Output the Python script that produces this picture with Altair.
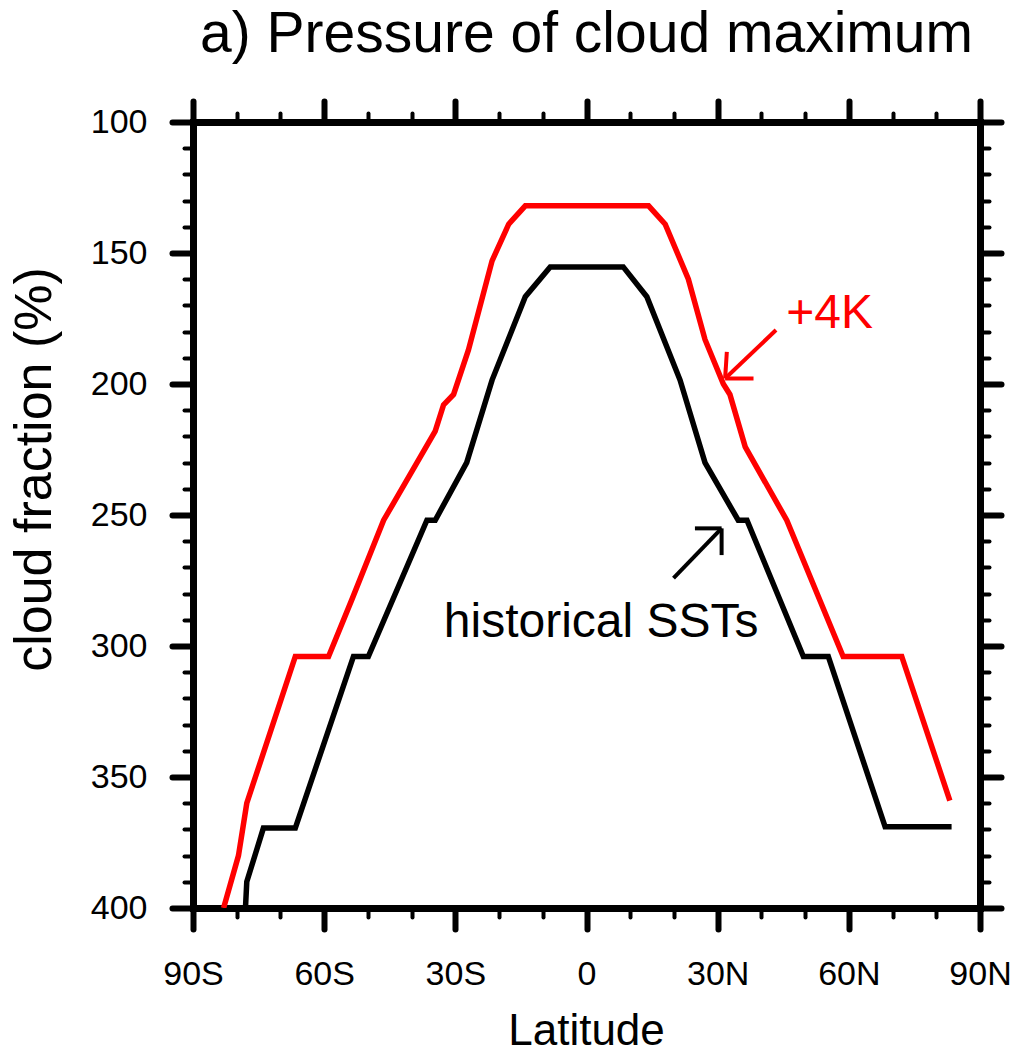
import altair as alt
import pandas as pd

# ---- data ----
lat_hist = [-78.0, -77.7, -73.9, -66.6, -53.3, -49.9, -36.5, -34.6, -27.4, -21.6, -14.0, -8.3,
            8.4, 13.8, 21.4, 27.1, 34.7, 36.7, 49.6, 55.3, 68.3, 83.5]
p_hist = [400, 390, 369.5, 369.5, 304, 304, 252, 252, 230, 198.5, 166.7, 155.3,
          155.3, 166.7, 198.5, 230, 252, 252, 304, 304, 369, 369]

lat_4k = [-83.0, -79.6, -77.7, -66.6, -59.0, -53.6, -46.4, -34.6, -32.7, -30.4, -27.0, -21.6,
          -17.8, -14.0, 14.2, 18.0, 23.3, 27.1, 31.3, 32.8, 36.3, 45.8, 58.7, 72.1, 83.1]
p_4k = [400, 380, 360, 304, 304, 282, 252, 218, 208, 204, 187, 153,
        139, 132, 132, 139, 160, 183, 200, 204, 224, 252, 304, 304, 359]

series_names = ["historical SSTs", "+4K"]
series_colors = ["#000000", "#ff0000"]

# annotation labels
ann_text = ["+4K", "historical SSTs"]
ann_lat = [55.6, 3.35]
ann_p = [178.7, 296.5]
ann_series = ["+4K", "historical SSTs"]

# arrow segments (start lat, start p, end lat, end p)
arr_series = ["+4K", "+4K", "+4K", "historical SSTs", "historical SSTs", "historical SSTs"]
arr_lat1 = [43.35, 31.7, 31.7, 19.9, 30.9, 30.9]
arr_p1 = [179.4, 197.9, 197.9, 274.1, 255.1, 255.1]
arr_lat2 = [31.7, 32.1, 38.2, 30.9, 24.8, 30.9]
arr_p2 = [197.9, 187.7, 197.9, 255.1, 255.1, 265.3]

x_ticks = list(range(-90, 91, 10))
y_ticks = list(range(100, 401, 10))

# ---- tables ----
lines_df = pd.concat([
    pd.DataFrame({"lat": lat_hist, "p": p_hist, "series": series_names[0], "order": range(len(lat_hist))}),
    pd.DataFrame({"lat": lat_4k, "p": p_4k, "series": series_names[1], "order": range(len(lat_4k))}),
], ignore_index=True)
ann_df = pd.DataFrame({"text": ann_text, "lat": ann_lat, "p": ann_p, "series": ann_series})
arr_df = pd.DataFrame({"series": arr_series, "lat": arr_lat1, "p": arr_p1,
                       "lat2": arr_lat2, "p2": arr_p2})

FONT = "Liberation Sans"
x_scale = alt.Scale(domain=[-90, 90], nice=False, zero=False)
y_scale = alt.Scale(domain=[100, 400], reverse=True, nice=False, zero=False)
color_scale = alt.Scale(domain=series_names, range=series_colors)

major_x = "datum.value % 30 === 0"
major_y = "datum.value % 50 === 0"

def tick_size(test):
    return {"condition": {"test": test, "value": 21}, "value": 9}

def tick_width(test):
    return {"condition": {"test": test, "value": 6}, "value": 4}

frame = dict(domain=True, domainColor="black", domainWidth=7, domainCap="square", grid=False,
             tickColor="black", tickCap="round")

x_axis_bottom = alt.Axis(
    orient="bottom", values=x_ticks, **frame,
    tickSize=tick_size(major_x), tickWidth=tick_width(major_x),
    labelExpr="datum.value % 30 === 0 ? (datum.value < 0 ? (-datum.value) + 'S' : (datum.value > 0 ? datum.value + 'N' : '0')) : ''",
    labelFont=FONT, labelFontSize=34, labelColor="black", labelPadding=55, labelBaseline="alphabetic",
    labelFlush=False, labelOverlap=False, labelBound=False,
    title="Latitude", titleFont=FONT, titleFontSize=44, titleFontWeight="normal", titleColor="black",
    titleBaseline="alphabetic", titleY=136, titleX=393,
)
y_axis_left = alt.Axis(
    orient="left", values=y_ticks, **frame,
    tickSize=tick_size(major_y), tickWidth=tick_width(major_y),
    labelExpr="datum.value % 50 === 0 ? datum.label : ''",
    labelFont=FONT, labelFontSize=34, labelColor="black", labelPadding=25, labelBaseline="middle",
    labelFlush=False, labelOverlap=False, labelBound=False,
    title="cloud fraction (%)", titleFont=FONT, titleFontSize=52, titleFontWeight="normal", titleColor="black",
    titleAngle=270, titleBaseline="middle", titleAlign="center", titleX=-159, titleY=347,
)
x_axis_top = alt.Axis(
    orient="top", values=x_ticks, **frame, labels=False, title=None,
    tickSize=tick_size(major_x), tickWidth=tick_width(major_x),
)
y_axis_right = alt.Axis(
    orient="right", values=y_ticks, **frame, labels=False, title=None,
    tickSize=tick_size(major_y), tickWidth=tick_width(major_y),
)

base_lines = alt.Chart(lines_df)

lines = base_lines.mark_line(strokeWidth=5.5, clip=True).encode(
    x=alt.X("lat:Q", scale=x_scale, axis=x_axis_bottom),
    y=alt.Y("p:Q", scale=y_scale, axis=y_axis_left),
    color=alt.Color("series:N", scale=color_scale, legend=None),
    order="order:Q",
)

frame_axes = base_lines.mark_line(opacity=0).encode(
    x=alt.X("lat:Q", scale=x_scale, axis=x_axis_top),
    y=alt.Y("p:Q", scale=y_scale, axis=y_axis_right),
    detail="series:N",
    order="order:Q",
)

arrows = alt.Chart(arr_df).mark_rule(strokeWidth=4).encode(
    x=alt.X("lat:Q", scale=x_scale, axis=None),
    y=alt.Y("p:Q", scale=y_scale, axis=None),
    x2="lat2:Q",
    y2="p2:Q",
    color=alt.Color("series:N", scale=color_scale, legend=None),
)

labels = alt.Chart(ann_df).mark_text(font=FONT, fontSize=48, align="center", baseline="alphabetic").encode(
    x=alt.X("lat:Q", scale=x_scale, axis=None),
    y=alt.Y("p:Q", scale=y_scale, axis=None),
    text="text:N",
    color=alt.Color("series:N", scale=color_scale, legend=None),
)

chart = alt.layer(lines, arrows, labels, frame_axes).resolve_axis(
    x="independent", y="independent"
).properties(
    width=787,
    height=786,
    title=alt.TitleParams("a) Pressure of cloud maximum", font=FONT, fontSize=57, fontWeight="normal",
                          color="black", anchor="middle", baseline="alphabetic", offset=-11),
    autosize=alt.AutoSizeParams(type="none"),
    padding={"left": 193, "top": 122, "right": 34, "bottom": 144},
).configure_view(
    strokeWidth=0
).configure(background="white")

chart.save("out.html", embed_options={"renderer": "svg", "actions": False})
